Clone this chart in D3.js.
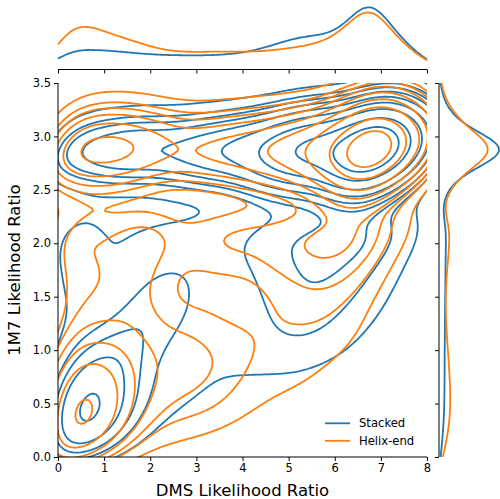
<!DOCTYPE html>
<html>
<head>
<meta charset="utf-8">
<script src="https://cdn.jsdelivr.net/npm/d3@7"></script>
<style>
  body { margin: 0; background: #fff; }
  text { font-family: "DejaVu Sans", sans-serif; fill: #000; }
</style>
</head>
<body>
<script>
// tick labels
var xTicks = [0, 1, 2, 3, 4, 5, 6, 7, 8];
var yTicks = [0, 0.5, 1, 1.5, 2, 2.5, 3, 3.5];
var seriesNames = ["Stacked", "Helix-end"];
// estimated share of samples in each group
var seriesShare = [0.47, 0.53];

// binned sample counts
// columns: DMS ratio bin centres, rows: 1M7 ratio bin centres (top row first)
var binX = [0.25, 0.75, 1.25, 1.75, 2.25, 2.75, 3.25, 3.75, 4.25, 4.75, 5.25, 5.75, 6.25, 6.75, 7.25, 7.75];
var binY = [3.375, 3.125, 2.875, 2.625, 2.375, 2.125, 1.875, 1.625, 1.375, 1.125, 0.875, 0.625, 0.375, 0.125];

var stackedCounts = [
  [0.03, 0.03, 0.04, 0.04, 0.04, 0.05, 0.05, 0.06, 0.08, 0.1, 0.15, 0.15, 0.2, 0.45, 0.35, 0.2],
  [0.22, 0.22, 0.3, 0.3, 0.27, 0.32, 0.38, 0.45, 0.53, 0.85, 1.1, 1.1, 1.3, 3.2, 1.8, 1.0],
  [1.1, 1.1, 1.5, 1.5, 1.4, 1.6, 1.95, 2.3, 2.6, 4.1, 6.0, 6.0, 8.0, 19, 8.0, 3.1],
  [0.22, 0.22, 0.3, 0.3, 0.27, 0.32, 0.38, 0.45, 0.53, 0.85, 1.1, 1.1, 1.3, 3.2, 1.2, 0.6],
  [0.03, 0.03, 0.04, 0.04, 0.04, 0.05, 0.05, 0.06, 0.08, 0.1, 0.15, 0.15, 0.15, 0.35, 0.1, 0.1],
  [0.45, 0.2, 0.2, 0.25, 0.25, 0.25, 0.3, 0.35, 0.45, 0.5, 0.55, 0.6, 0.6, 0.6, 0.45, 0.3],
  [0.45, 0.15, 0.15, 0.25, 0.3, 0.3, 0.25, 0.3, 0.4, 0.45, 0.5, 0.5, 0.5, 0.45, 0.3, 0.15],
  [0.4, 0.15, 0.2, 0.35, 0.45, 0.4, 0.25, 0.25, 0.35, 0.45, 0.5, 0.5, 0.45, 0.35, 0.2, 0.1],
  [0.35, 0.15, 0.3, 0.45, 0.5, 0.4, 0.25, 0.2, 0.3, 0.4, 0.45, 0.45, 0.35, 0.25, 0.15, 0.05],
  [0.35, 0.35, 0.5, 0.5, 0.4, 0.3, 0.25, 0.2, 0.3, 0.35, 0.4, 0.35, 0.25, 0.15, 0.1, 0.05],
  [0.55, 0.75, 0.75, 0.4, 0.3, 0.25, 0.2, 0.2, 0.25, 0.25, 0.25, 0.2, 0.15, 0.1, 0.05, 0],
  [1.0, 1.1, 0.8, 0.35, 0.3, 0.25, 0.2, 0.15, 0.1, 0.1, 0.1, 0.05, 0.05, 0.05, 0, 0],
  [1.25, 1.25, 0.75, 0.3, 0.2, 0.15, 0.1, 0.05, 0.05, 0.05, 0.05, 0, 0, 0, 0, 0],
  [1.0, 0.8, 0.4, 0.2, 0.1, 0.05, 0.05, 0, 0, 0, 0, 0, 0, 0, 0, 0]
];

var helixCounts = [
  [0.08, 0.1, 0.1, 0.08, 0.05, 0.05, 0.05, 0.06, 0.07, 0.08, 0.1, 0.13, 0.3, 0.65, 0.4, 0.2],
  [0.5, 0.55, 0.55, 0.45, 0.32, 0.29, 0.33, 0.37, 0.41, 0.49, 0.61, 0.77, 1.45, 3.3, 1.7, 0.9],
  [1.6, 1.8, 1.8, 1.5, 1.05, 0.93, 1.1, 1.2, 1.33, 1.57, 1.97, 2.5, 4.5, 10.5, 4.6, 2.2],
  [0.5, 0.55, 0.55, 0.45, 0.32, 0.29, 0.33, 0.37, 0.41, 0.49, 0.61, 0.77, 1.3, 3.1, 1.1, 0.45],
  [0.08, 0.1, 0.1, 0.08, 0.05, 0.05, 0.05, 0.06, 0.07, 0.08, 0.1, 0.13, 0.2, 0.35, 0.15, 0.05],
  [0.55, 0.35, 0.4, 0.6, 0.4, 0.35, 0.45, 0.5, 0.5, 0.5, 0.55, 0.6, 0.6, 0.55, 0.3, 0.1],
  [0.5, 0.3, 0.35, 0.55, 0.3, 0.25, 0.3, 0.35, 0.35, 0.45, 0.5, 0.55, 0.5, 0.4, 0.15, 0],
  [0.45, 0.3, 0.35, 0.5, 0.25, 0.2, 0.2, 0.2, 0.2, 0.3, 0.35, 0.4, 0.35, 0.25, 0.05, 0],
  [0.45, 0.35, 0.4, 0.45, 0.3, 0.25, 0.25, 0.2, 0.2, 0.25, 0.3, 0.3, 0.25, 0.15, 0, 0],
  [0.6, 0.55, 0.55, 0.45, 0.4, 0.4, 0.35, 0.3, 0.25, 0.25, 0.25, 0.25, 0.2, 0.1, 0, 0],
  [1.2, 1.05, 0.85, 0.5, 0.45, 0.45, 0.4, 0.35, 0.25, 0.2, 0.2, 0.15, 0.1, 0.05, 0, 0],
  [1.95, 1.6, 1.0, 0.5, 0.4, 0.4, 0.35, 0.3, 0.2, 0.15, 0.15, 0.1, 0.05, 0, 0, 0],
  [2.45, 1.85, 0.9, 0.45, 0.3, 0.3, 0.3, 0.2, 0.1, 0.1, 0.05, 0.05, 0, 0, 0, 0],
  [2.05, 1.3, 0.6, 0.25, 0.15, 0.1, 0.05, 0.05, 0.05, 0, 0, 0, 0, 0, 0, 0]
];

var colors = ["#1f77b4", "#ff7f0e"];

function toPoints(counts) {
  var xs = [], ys = [], ws = [];
  counts.forEach(function(row, j) {
    row.forEach(function(w, i) {
      if (w > 0) { xs.push(binX[i]); ys.push(binY[j]); ws.push(w); }
    });
  });
  return {xs: xs, ys: ys, ws: ws};
}

var series = [stackedCounts, helixCounts].map(function(cnt, i) {
  var p = toPoints(cnt);
  p.name = seriesNames[i];
  p.color = colors[i];
  p.share = seriesShare[i];
  return p;
});

var width = 500, height = 499;
var svg = d3.select("body").append("svg")
  .attr("width", width)
  .attr("height", height);

var x = d3.scaleLinear().domain([0, 8]).range([58, 427]);
var y = d3.scaleLinear().domain([0, 3.5]).range([457, 83]);

// gaussian kernel with correlated bandwidth
var sx = 0.48, sy = 0.19, rho = 0.45;
var nx = 200, ny = 200;
var gx0 = -1.5, gx1 = 9.5, gy0 = -0.8, gy1 = 4.3;
var dgx = (gx1 - gx0) / (nx - 1), dgy = (gy1 - gy0) / (ny - 1);

function kde2(s) {
  var tot = d3.sum(s.ws);
  var norm = 1 / (2 * Math.PI * sx * sy * Math.sqrt(1 - rho * rho)) / tot * s.share;
  var vals = new Float64Array(nx * ny);
  for (var j = 0; j < ny; j++) {
    var gy = gy0 + j * dgy;
    for (var i = 0; i < nx; i++) {
      var gx = gx0 + i * dgx, v = 0;
      for (var k = 0; k < s.xs.length; k++) {
        var a = (gx - s.xs[k]) / sx, b = (gy - s.ys[k]) / sy;
        v += s.ws[k] * Math.exp(-(a * a - 2 * rho * a * b + b * b) / (2 * (1 - rho * rho)));
      }
      vals[j * nx + i] = v * norm;
    }
  }
  return vals;
}

series.forEach(function(s) { s.grid = kde2(s); });

// iso-proportion levels, common to both series
var all = [];
series.forEach(function(s) { s.grid.forEach(function(v) { all.push(v); }); });
var sorted = all.slice().sort(function(a, b) { return b - a; });
var total = d3.sum(sorted);
var cum = [], c = 0;
sorted.forEach(function(v) { c += v; cum.push(c / total); });
var props = d3.range(10).map(function(i) { return 0.05 + i * 0.95 / 9; }).slice(0, 9);
var levels = props.map(function(p) {
  var idx = d3.bisectLeft(cum, 1 - p);
  return sorted[Math.min(idx, sorted.length - 1)];
}).sort(d3.ascending);

var proj = d3.geoTransform({
  point: function(px, py) {
    this.stream.point(x(gx0 + (px - 0.5) * dgx), y(gy0 + (py - 0.5) * dgy));
  }
});
var path = d3.geoPath(proj);

svg.append("clipPath").attr("id", "clipMain")
  .append("rect").attr("x", 58).attr("y", 83).attr("width", 369).attr("height", 374);

var contourG = svg.append("g").attr("clip-path", "url(#clipMain)");
series.forEach(function(s) {
  var cs = d3.contours().size([nx, ny]).thresholds(levels)(s.grid);
  contourG.append("g").selectAll("path").data(cs).enter()
    .append("path")
    .attr("d", path)
    .attr("fill", "none")
    .attr("stroke", s.color)
    .attr("stroke-width", 1.8)
    .attr("stroke-linejoin", "round");
});

// marginal densities
function kde1(vals, ws, bw, pts, share) {
  var tot = d3.sum(ws);
  return pts.map(function(t) {
    var v = 0;
    for (var k = 0; k < vals.length; k++) {
      var z = (t - vals[k]) / bw;
      v += ws[k] * Math.exp(-0.5 * z * z);
    }
    return v / (tot * bw * Math.sqrt(2 * Math.PI)) * share;
  });
}
var xPts = d3.range(0, 8.001, 0.04);
var yPts = d3.range(0, 3.501, 0.02);
series.forEach(function(s) {
  s.mx = kde1(s.xs, s.ws, sx * 0.8, xPts, s.share);
  s.my = kde1(s.ys, s.ws, sy * 0.8, yPts, s.share);
});
var topMax = d3.max(series, function(s) { return d3.max(s.mx); });
var rightMax = d3.max(series, function(s) { return d3.max(s.my); });
var yTop = d3.scaleLinear().domain([0, topMax]).range([69.5, 7.3]);
var xRight = d3.scaleLinear().domain([0, rightMax]).range([439, 499]);

series.forEach(function(s) {
  svg.append("path")
    .datum(xPts.map(function(t, i) { return [t, s.mx[i]]; }))
    .attr("fill", "none").attr("stroke", s.color).attr("stroke-width", 1.8)
    .attr("d", d3.line().x(function(d) { return x(d[0]); }).y(function(d) { return yTop(d[1]); }));
  svg.append("path")
    .datum(yPts.map(function(t, i) { return [t, s.my[i]]; }))
    .attr("fill", "none").attr("stroke", s.color).attr("stroke-width", 1.8)
    .attr("d", d3.line().x(function(d) { return xRight(d[1]); }).y(function(d) { return y(d[0]); }));
});

// axes
var xAxis = svg.append("g").attr("transform", "translate(0,457)")
  .call(d3.axisBottom(x).tickValues(xTicks).tickSize(4).tickPadding(3).tickFormat(d3.format("d")));
var yAxis = svg.append("g").attr("transform", "translate(58,0)")
  .call(d3.axisLeft(y).tickValues(yTicks).tickSize(4).tickPadding(3).tickFormat(d3.format(".1f")));
var xTopAxis = svg.append("g").attr("transform", "translate(0,69.5)")
  .call(d3.axisBottom(x).tickValues(xTicks).tickSize(4).tickFormat(""));
var yRightAxis = svg.append("g").attr("transform", "translate(439,0)")
  .call(d3.axisLeft(y).tickValues(yTicks).tickSize(4).tickFormat(""));
[xAxis, yAxis, xTopAxis, yRightAxis].forEach(function(g) {
  g.selectAll("path.domain").attr("stroke", "#000").attr("stroke-width", 1);
  g.selectAll(".tick line").attr("stroke", "#000").attr("stroke-width", 1);
  g.selectAll("text").attr("font-size", 11.5).attr("font-family", "DejaVu Sans").attr("fill", "#222");
});
xTopAxis.select("path.domain").attr("d", "M58,0H427");
yRightAxis.select("path.domain").attr("d", "M0,83V457");
xAxis.select("path.domain").attr("d", "M58,0H427");
yAxis.select("path.domain").attr("d", "M0,83V457");

svg.append("text").attr("x", 242.5).attr("y", 495.5).attr("text-anchor", "middle")
  .attr("font-size", 16.5).text("DMS Likelihood Ratio");
svg.append("text").attr("transform", "translate(19.5,270) rotate(-90)").attr("text-anchor", "middle")
  .attr("font-size", 16.5).text("1M7 Likelihood Ratio");

// legend
var leg = svg.append("g");
series.forEach(function(s, i) {
  var ly = 423.3 + i * 17.5;
  leg.append("line").attr("x1", 325).attr("x2", 350).attr("y1", ly).attr("y2", ly)
    .attr("stroke", s.color).attr("stroke-width", 1.8);
  leg.append("text").attr("x", 359).attr("y", ly + 4).attr("font-size", 11.6).text(s.name);
});
</script>
</body>
</html>
